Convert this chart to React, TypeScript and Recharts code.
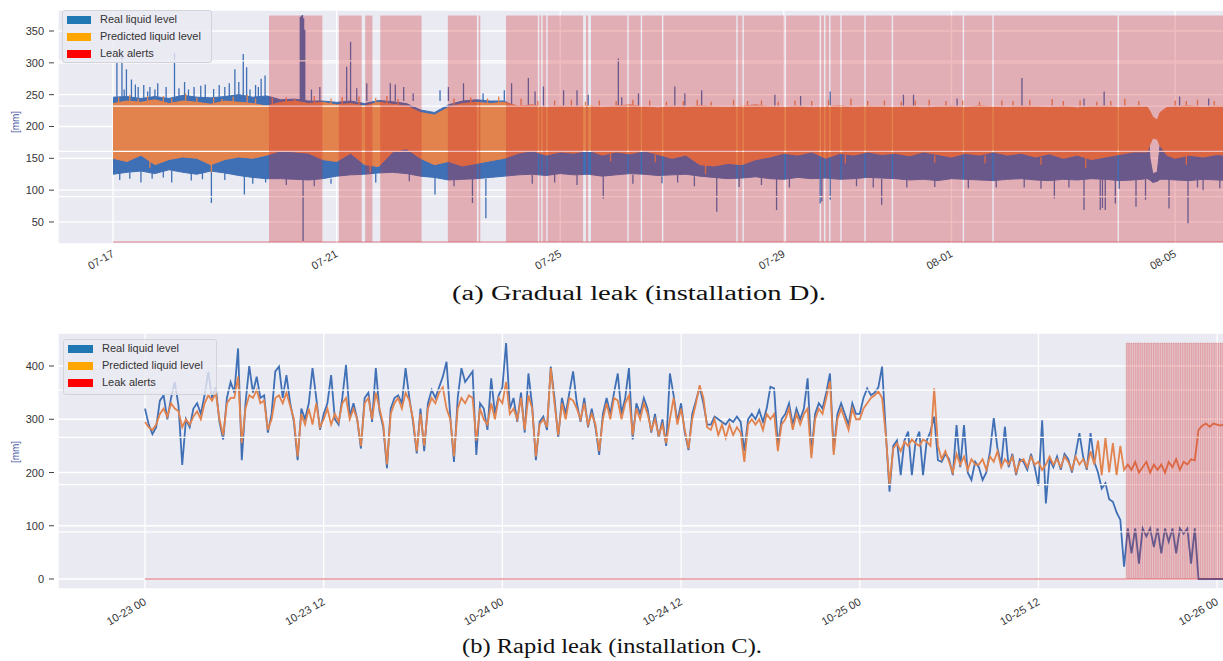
import React from "react";
import { ComposedChart, Area, Line, XAxis, YAxis, CartesianGrid, ReferenceLine } from "recharts";

const BLUE = "#3f6fb5";
const ORANGE = "#e2834d";
const ALERT = "#d0262a";
const BG = "#eaeaf2";
const FONT = '"Liberation Sans", Arial, Helvetica, sans-serif';

// ---------------- (a) Gradual leak (installation D): x = days since 07-17 00:00 ----------------
const topTickDays = [0, 4, 8, 12, 15, 19];
const topTickLabels = ["07-17", "07-21", "07-25", "07-29", "08-01", "08-05"];
const topYTicks = [50, 100, 150, 200, 250, 300, 350];

// [day, low, high] envelope of the dense real liquid level
const realBandTop: [number, number, number][] = [
  [0, 125, 246], [0.25, 128, 247], [0.5, 130, 244], [0.75, 126, 247], [1, 132, 244], [1.25, 128, 249],
  [1.5, 125, 246], [1.75, 130, 245], [2, 127, 247], [2.25, 123, 250], [2.5, 120, 246], [2.75, 118, 248],
  [3, 118, 242], [3.25, 117, 243], [3.5, 116, 240], [3.75, 118, 240], [4, 122, 238], [4.25, 124, 240],
  [4.5, 125, 236], [4.75, 127, 241], [5, 128, 239], [5.25, 126, 236], [5.5, 122, 226], [5.75, 120, 222],
  [6, 116, 234], [6.25, 117, 240], [6.5, 118, 242], [6.75, 120, 240], [7, 122, 240],
  [7.25, 124, 228], [7.5, 125, 226], [7.75, 123, 229], [8, 126, 227], [8.25, 124, 230], [8.5, 125, 228],
  [8.75, 122, 226], [9, 124, 229], [9.25, 126, 227], [9.5, 125, 230], [9.75, 123, 226], [10, 124, 228],
  [10.25, 125, 227], [10.5, 122, 229], [10.75, 120, 226], [11, 118, 228], [11.25, 119, 227], [11.5, 121, 229],
  [11.75, 118, 226], [12, 117, 228], [12.25, 120, 227], [12.5, 118, 229], [12.75, 119, 226], [13, 117, 228],
  [13.25, 118, 227], [13.5, 120, 229], [13.75, 119, 226], [14, 118, 228], [14.25, 116, 227], [14.5, 117, 229],
  [14.75, 115, 226], [15, 118, 228], [15.25, 117, 227], [15.5, 116, 229], [15.75, 115, 226], [16, 117, 228],
  [16.25, 118, 227], [16.5, 116, 229], [16.75, 115, 226], [17, 117, 228], [17.25, 116, 227], [17.5, 118, 229],
  [17.75, 117, 226], [18, 115, 228], [18.25, 116, 227], [18.5, 118, 228], [18.55, 116, 150], [18.6, 112, 126],
  [18.68, 114, 128], [18.73, 117, 170], [18.85, 117, 228], [19, 116, 228], [19.25, 115, 227], [19.5, 117, 229],
  [19.75, 116, 226], [20, 115, 228],
];

// [day, low, high] envelope of the dense predicted liquid level
const predBandTop: [number, number, number][] = [
  [0, 150, 236], [0.25, 145, 240], [0.5, 155, 238], [0.75, 140, 242], [1, 148, 236], [1.25, 152, 240],
  [1.5, 150, 238], [1.75, 140, 235], [2, 148, 240], [2.25, 152, 238], [2.5, 150, 236], [2.75, 155, 232],
  [3, 162, 238], [3.25, 160, 240], [3.5, 158, 236], [3.75, 148, 238], [4, 145, 234], [4.25, 158, 236],
  [4.5, 140, 232], [4.75, 137, 238], [5, 160, 235], [5.25, 165, 232], [5.5, 150, 222], [5.75, 140, 218],
  [6, 145, 230], [6.25, 138, 236], [6.5, 142, 238], [6.75, 146, 236], [7, 150, 238],
  [7.25, 158, 232], [7.5, 162, 234], [7.75, 155, 230], [8, 160, 232], [8.25, 158, 231], [8.5, 163, 233],
  [8.75, 155, 230], [9, 160, 232], [9.25, 157, 234], [9.5, 162, 231], [9.75, 156, 229], [10, 150, 232],
  [10.25, 155, 230], [10.5, 140, 233], [10.75, 138, 231], [11, 142, 230], [11.25, 140, 232], [11.5, 148, 234],
  [11.75, 152, 231], [12, 158, 230], [12.25, 155, 232], [12.5, 160, 229], [12.75, 150, 231], [13, 158, 233],
  [13.25, 155, 230], [13.5, 160, 232], [13.75, 156, 231], [14, 158, 230], [14.25, 154, 232], [14.5, 160, 229],
  [14.75, 156, 231], [15, 152, 232], [15.25, 158, 230], [15.5, 155, 233], [15.75, 160, 231], [16, 155, 230],
  [16.25, 158, 232], [16.5, 152, 231], [16.75, 157, 230], [17, 150, 232], [17.25, 155, 229], [17.5, 148, 231],
  [17.75, 152, 232], [18, 156, 230], [18.25, 160, 231], [18.5, 160, 231], [18.55, 172, 224], [18.6, 182, 215],
  [18.68, 180, 210], [18.73, 170, 222], [18.85, 155, 230], [19, 150, 231], [19.25, 155, 233], [19.5, 152, 230],
  [19.75, 156, 232], [20, 154, 231],
];

// [day, from, to] single spikes of the real level
const realSpikesTop: [number, number, number][] = [
  [0.07, 240, 300], [0.16, 240, 311], [0.2, 240, 258], [0.24, 240, 290], [0.33, 240, 274], [0.4, 240, 266],
  [0.45, 240, 262], [0.55, 240, 265], [0.62, 240, 255], [0.66, 240, 262], [0.75, 240, 258], [0.8, 240, 268],
  [0.95, 240, 262], [1.1, 240, 316], [1.18, 240, 260], [1.28, 240, 270], [1.35, 240, 258], [1.45, 240, 262],
  [1.57, 240, 264], [1.65, 240, 266], [1.8, 240, 259], [1.9, 240, 265], [2.0, 240, 262], [2.08, 240, 268],
  [2.18, 240, 290], [2.25, 240, 270], [2.33, 240, 314], [2.39, 240, 293], [2.45, 240, 258], [2.55, 240, 265],
  [2.6, 240, 262], [2.65, 240, 275], [2.72, 240, 280],
  [3.35, 240, 372], [3.37, 240, 374], [3.39, 240, 375], [3.41, 240, 370], [3.43, 240, 352],
  [3.55, 240, 258], [3.7, 240, 262], [4.18, 240, 294], [4.25, 240, 333], [4.36, 240, 260], [4.54, 240, 268],
  [4.96, 240, 268], [5.05, 240, 266], [5.2, 240, 262], [5.37, 240, 252], [5.85, 240, 257], [6.0, 240, 262],
  [6.27, 240, 268], [6.62, 240, 252], [7.0, 240, 257], [7.13, 228, 268], [7.43, 228, 276], [7.55, 228, 255],
  [7.7, 228, 263], [8.06, 228, 257], [8.3, 228, 257], [8.5, 228, 250], [9.04, 228, 307], [9.1, 228, 246],
  [9.4, 228, 252], [10.05, 228, 263], [10.23, 228, 252], [10.53, 228, 257], [11.84, 228, 250], [12.3, 228, 248],
  [12.83, 228, 255], [14.14, 228, 250], [14.32, 228, 250], [15.1, 228, 244], [16.26, 228, 276], [17.37, 228, 244],
  [17.73, 228, 255], [19.08, 228, 247], [19.6, 228, 244],
  [0.12, 130, 116], [0.3, 128, 118], [0.5, 130, 112], [0.7, 130, 118], [0.9, 130, 120], [1.05, 130, 112],
  [1.4, 130, 115], [1.6, 128, 117], [1.76, 130, 80], [2.0, 128, 116], [2.35, 130, 93], [2.5, 125, 110],
  [2.73, 125, 112], [3.1, 118, 108], [3.4, 120, 20], [3.6, 118, 106], [3.9, 118, 110], [4.7, 126, 112],
  [5.3, 126, 114], [5.76, 125, 93], [6.1, 118, 106], [6.43, 118, 80], [6.67, 118, 56], [7.5, 124, 110],
  [7.9, 124, 112], [8.3, 124, 108], [8.77, 122, 87], [9.3, 124, 110], [9.82, 122, 111], [10.1, 124, 112],
  [10.4, 122, 106], [10.8, 120, 66], [11.2, 119, 105], [11.6, 120, 108], [11.87, 120, 69], [12.1, 118, 104],
  [12.65, 120, 79], [12.68, 120, 82], [12.83, 120, 85], [13.3, 118, 106], [13.6, 119, 104], [13.75, 118, 77],
  [14.2, 117, 104], [14.7, 116, 105], [15.3, 117, 103], [15.8, 115, 104], [16.3, 118, 104], [16.6, 116, 102],
  [16.84, 118, 87], [17.1, 117, 104], [17.37, 118, 69], [17.66, 118, 69], [17.7, 118, 72], [17.75, 118, 69],
  [17.93, 118, 79], [18.0, 115, 102], [18.3, 118, 74], [18.47, 118, 85], [18.89, 118, 71], [19.23, 118, 48],
  [19.4, 117, 104], [19.5, 118, 100], [19.8, 116, 103],
];

// [day, from, to] single spikes of the predicted level
const predSpikesTop: [number, number, number][] = [
  [0.1, 232, 246], [0.3, 232, 250], [0.45, 232, 244], [0.62, 232, 248], [0.9, 232, 248], [1.05, 232, 244],
  [1.3, 232, 252], [1.5, 232, 245], [1.8, 232, 246], [1.95, 232, 243], [2.15, 232, 247], [2.4, 232, 250],
  [2.55, 232, 244], [2.85, 232, 245], [3.1, 232, 246], [3.25, 232, 243], [3.6, 232, 248], [3.9, 232, 244],
  [4.1, 232, 246], [4.4, 232, 247], [4.7, 232, 245], [4.9, 232, 248], [5.1, 232, 243], [6.1, 228, 244],
  [6.4, 232, 246], [6.7, 232, 244], [6.9, 232, 247],
  [7.3, 226, 244], [7.6, 226, 240], [7.9, 226, 241], [8.2, 226, 242], [8.45, 226, 239], [8.7, 226, 241],
  [9.0, 226, 240], [9.3, 226, 242], [9.6, 226, 241], [9.9, 226, 239], [10.2, 226, 240], [10.45, 226, 242],
  [10.7, 226, 239], [11.1, 226, 242], [11.35, 226, 240], [11.6, 226, 241], [11.9, 226, 239], [12.2, 226, 241],
  [12.5, 226, 240], [12.8, 226, 242], [13.2, 226, 244], [13.5, 226, 240], [13.8, 226, 241], [14.1, 226, 239],
  [14.35, 226, 241], [14.6, 226, 242], [14.9, 226, 240], [15.2, 226, 241], [15.5, 226, 239], [15.9, 226, 241],
  [16.1, 226, 240], [16.4, 226, 242], [16.8, 226, 243], [17.0, 226, 240], [17.3, 226, 241], [17.6, 226, 239],
  [17.85, 226, 240], [18.1, 226, 244], [18.35, 226, 240], [19.0, 226, 241], [19.2, 226, 240], [19.4, 226, 242],
  [19.7, 226, 240], [19.9, 226, 241],
  [0.66, 150, 135], [1.76, 145, 128], [4.6, 140, 128], [8.9, 158, 145], [9.7, 156, 144], [10.6, 140, 125],
  [13.1, 156, 142], [14.7, 155, 143], [15.6, 155, 142], [16.6, 152, 140], [17.4, 150, 135], [19.2, 155, 140],
];

// [start day, end day] of leak alerts
const alertPeriodsTop: [number, number][] = [
  [2.79, 3.745], [4.04, 4.45], [4.51, 4.64], [4.78, 5.52], [5.99, 6.51], [6.54, 6.57], [7.03, 7.6],
  [7.625, 7.66], [7.685, 7.75], [7.775, 8.41], [8.46, 8.5], [8.55, 9.2], [9.225, 9.44], [9.465, 9.82],
  [9.845, 11.15], [11.175, 11.26], [11.285, 12.01], [12.04, 12.64], [12.665, 12.72], [12.745, 12.81],
  [12.835, 13.01], [13.035, 13.44], [13.465, 13.93], [13.955, 15.2], [15.225, 15.73], [15.755, 17.97],
  [17.995, 20.0],
];

// ---------------- (b) Rapid leak (installation C): x = hours since 10-23 00:00 ----------------
const bottomTickHours = [0, 12, 24, 36, 48, 60, 72];
const bottomTickLabels = ["10-23 00", "10-23 12", "10-24 00", "10-24 12", "10-25 00", "10-25 12", "10-26 00"];
const bottomYTicks = [0, 100, 200, 300, 400];
const sampleStepHours = 0.25;

const realBottom = [
  320, 290, 272, 285, 335, 345, 300, 340,
  370, 325, 214, 300, 285, 320, 330, 310,
  345, 389, 340, 360, 295, 262, 340, 370,
  350, 433, 223, 330, 400, 350, 380, 340,
  345, 275, 310, 390, 399, 340, 383, 330,
  295, 223, 320, 300, 330, 396, 340, 280,
  310, 330, 383, 300, 290, 340, 402, 305,
  330, 300, 245, 340, 350, 295, 396, 315,
  285, 208, 320, 340, 345, 330, 396, 340,
  295, 236, 320, 240, 330, 355, 340, 360,
  380, 408, 305, 220, 340, 396, 370, 380,
  390, 233, 330, 320, 280, 377, 310, 345,
  360, 443, 320, 340, 295, 350, 275, 386,
  325, 223, 295, 305, 280, 399, 340, 265,
  340, 310, 350, 390, 330, 295, 340, 285,
  320, 285, 233, 310, 340, 310, 350, 386,
  310, 340, 396, 262, 330, 310, 340, 320,
  275, 310, 265, 300, 250, 386, 345, 295,
  330, 275, 242, 310, 335, 360, 330, 290,
  290, 305, 300, 295, 290, 300, 295, 305,
  295, 240, 300, 310, 300, 317, 295, 320,
  361, 358, 250, 300, 310, 330, 290, 320,
  300, 320, 377, 235, 310, 330, 320, 350,
  386, 240, 310, 330, 310, 290, 330, 310,
  310, 340, 358, 345, 350, 360, 399, 275,
  164, 250, 260, 195, 260, 277, 195, 258,
  277, 195, 260, 277, 305, 223, 220, 235,
  225, 195, 289, 210, 289, 200, 186, 220,
  210, 186, 200, 240, 302, 245, 215, 286,
  210, 235, 195, 225, 220, 205, 235, 210,
  175, 298, 142, 225, 210, 230, 205, 235,
  225, 200, 235, 274, 230, 205, 274, 220,
  200, 170, 180, 150, 145, 125, 111, 23,
  95, 48, 95, 29, 95, 80, 95, 60,
  95, 48, 95, 70, 95, 48, 95, 85,
  95, 29, 95, 0, 0, 0, 0, 0,
  0, 0, 0, 0,
];

const predBottom = [
  295, 285, 280, 290, 310, 320, 305, 330,
  320, 315, 285, 300, 290, 305, 315, 300,
  330, 345, 335, 350, 300, 270, 330, 340,
  340, 380, 255, 320, 345, 340, 355, 330,
  335, 280, 300, 340, 345, 330, 350, 325,
  300, 230, 310, 290, 320, 290, 330, 285,
  300, 320, 290, 310, 295, 330, 340, 300,
  320, 300, 250, 330, 340, 300, 350, 320,
  290, 215, 310, 330, 340, 320, 350, 335,
  300, 240, 310, 250, 320, 340, 330, 350,
  360, 320, 300, 230, 320, 340, 330, 345,
  340, 260, 320, 300, 290, 330, 300, 340,
  330, 370, 310, 320, 300, 340, 280, 345,
  320, 230, 290, 300, 285, 396, 330, 270,
  330, 300, 340, 335, 320, 300, 330, 290,
  310, 290, 240, 300, 330, 300, 340, 335,
  300, 330, 345, 270, 320, 300, 330, 310,
  280, 300, 270, 290, 255, 300, 340, 290,
  320, 280, 245, 300, 330, 364, 340, 285,
  280, 300, 270, 290, 265, 290, 270, 285,
  275, 220, 290, 300, 290, 300, 280, 310,
  300, 310, 240, 290, 300, 320, 280, 310,
  290, 310, 320, 227, 300, 320, 310, 340,
  371, 233, 300, 320, 300, 280, 320, 300,
  300, 320, 330, 340, 345, 352, 340, 270,
  177, 245, 255, 240, 258, 250, 262, 255,
  250, 262, 258, 250, 358, 250, 225, 240,
  220, 200, 235, 215, 230, 205, 225, 215,
  215, 225, 205, 230, 220, 240, 210, 225,
  215, 230, 200, 220, 225, 210, 230, 215,
  220, 205, 215, 230, 215, 225, 210, 230,
  220, 205, 230, 215, 225, 210, 240, 215,
  260, 195, 265, 200, 255, 195, 250, 205,
  215, 205, 220, 200, 210, 220, 200, 215,
  205, 215, 200, 220, 210, 225, 205, 220,
  215, 225, 223, 280, 288, 292, 286, 292,
  290, 288, 291, 289,
];

// start hour of each leak alert pulse
const alertPulsesBottom = [
  65.9, 66.05, 66.2, 66.35, 66.5, 66.65, 66.8, 66.95, 67.1, 67.25, 67.4, 67.55, 67.7, 67.85, 68.0,
  68.15, 68.3, 68.45, 68.6, 68.75, 68.9, 69.05, 69.2, 69.35, 69.5, 69.65, 69.8, 69.95, 70.1, 70.25,
  70.4, 70.55, 70.7, 70.85, 71.0, 71.15, 71.3, 71.45, 71.6, 71.75, 71.9, 72.05, 72.2, 72.35, 72.5,
];
const pulseHours = 0.075;

// alert (twin) axis grid values
const twinGrid = [0.2, 0.4, 0.6, 0.8];

// ---------------- derived tables ----------------
const realBandTopData = realBandTop.map(([t, lo, hi]) => ({ t, r: [lo, hi] }));
const predBandTopData = predBandTop.map(([t, lo, hi]) => ({ t, r: [lo, hi] }));
const spikes = (arr: [number, number, number][]) =>
  arr.flatMap(([t, a, b]) => [{ t, v: a }, { t, v: b }, { t, v: null }]);
const realSpikeTopData = spikes(realSpikesTop);
const predSpikeTopData = spikes(predSpikesTop);
const alertTopData = [
  { t: 0, a: 0 },
  ...alertPeriodsTop.flatMap(([s, e]) => [{ t: s, a: 1 }, { t: e, a: 0 }]),
];
const bottomData = realBottom.map((r, i) => ({ t: i * sampleStepHours, real: r, pred: predBottom[i] }));
const alertBottomData = [
  { t: 0, a: 0 },
  ...alertPulsesBottom.flatMap((s) => [{ t: s, a: 1 }, { t: s + pulseHours, a: 0 }]),
  { t: 76, a: 0 },
];

// ---------------- small renderers ----------------
const YTick = (props: any) => {
  const { y, payload } = props;
  return (
    <g>
      <line x1={49} x2={54} y1={y} y2={y} stroke="#444" strokeWidth={1} />
      <text x={44} y={y} textAnchor="end" dominantBaseline="central" fontSize={11} fill="#333" fontFamily={FONT}>
        {payload.value}
      </text>
    </g>
  );
};

const makeXTick = (ticks: number[], labels: string[], labelY: number) => (props: any) => {
  const { x, payload } = props;
  const i = ticks.indexOf(payload.value);
  return (
    <text
      transform={`translate(${x - 2},${labelY}) rotate(-30)`}
      textAnchor="end"
      dominantBaseline="hanging"
      fontSize={11}
      fill="#333"
      fontFamily={FONT}
    >
      {labels[i]}
    </text>
  );
};

const MmLabel = (props: any) => (
  <text
    transform={`translate(15,${props.cy}) rotate(-90)`}
    textAnchor="middle"
    dominantBaseline="central"
    fontSize={10}
    fill="#4b5aa6"
    fontFamily={FONT}
  >
    [mm]
  </text>
);

const legendItems = [
  { label: "Real liquid level", color: "#1f77b4" },
  { label: "Predicted liquid level", color: "#ffa500" },
  { label: "Leak alerts", color: "#ff0000" },
];

const LegendBox = ({ left, top, width, height, rowGap, patchW }: any) => (
  <div
    style={{
      position: "absolute",
      left,
      top,
      width,
      height,
      boxSizing: "border-box",
      background: "rgba(234,234,242,0.8)",
      border: "1px solid #d3d3da",
      borderRadius: 3,
      fontFamily: FONT,
      fontSize: 11,
      color: "#333",
    }}
  >
    {legendItems.map((it, i) => (
      <div key={it.label} style={{ position: "absolute", left: 4, top: 4 + i * rowGap, height: 9, display: "flex", alignItems: "center" }}>
        <div style={{ width: patchW, height: 8, background: it.color }} />
        <div style={{ marginLeft: 9, whiteSpace: "nowrap", lineHeight: "9px" }}>{it.label}</div>
      </div>
    ))}
  </div>
);

function TopChart() {
  return (
    <ComposedChart width={1290} height={300} margin={{ top: 10, right: 2, bottom: 16, left: 0 }}>
      <CartesianGrid fill={BG} stroke="#ffffff" strokeWidth={1.3} />
      <XAxis
        dataKey="t"
        type="number"
        domain={[-0.984, 21.019]}
        allowDataOverflow
        ticks={topTickDays}
        interval={0}
        tick={makeXTick(topTickDays, topTickLabels, 249)}
        tickLine={false}
        axisLine={false}
        height={40}
      />
      <YAxis
        type="number"
        domain={[15.4, 383]}
        allowDataOverflow
        ticks={topYTicks}
        interval={0}
        tick={YTick}
        tickLine={false}
        axisLine={false}
        width={58}
        label={<MmLabel cy={122} />}
      />
      <YAxis yAxisId="alert" orientation="right" hide type="number" domain={[-0.0088, 1.0243]} allowDataOverflow />
      <Area data={realBandTopData} dataKey="r" type="linear" fill={BLUE} fillOpacity={1} stroke={BLUE} strokeWidth={1} dot={false} activeDot={false} isAnimationActive={false} zIndex={110} />
      <Line data={realSpikeTopData} dataKey="v" type="linear" stroke={BLUE} strokeWidth={1.3} dot={false} activeDot={false} connectNulls={false} isAnimationActive={false} zIndex={120} />
      <Area data={predBandTopData} dataKey="r" type="linear" fill={ORANGE} fillOpacity={1} stroke={ORANGE} strokeWidth={1} dot={false} activeDot={false} isAnimationActive={false} zIndex={130} />
      <Line data={predSpikeTopData} dataKey="v" type="linear" stroke={ORANGE} strokeWidth={1.3} dot={false} activeDot={false} connectNulls={false} isAnimationActive={false} zIndex={140} />
      {twinGrid.map((g) => (
        <ReferenceLine key={g} yAxisId="alert" y={g} stroke="#ffffff" strokeWidth={1.3} zIndex={150} />
      ))}
      <Area data={alertTopData} yAxisId="alert" dataKey="a" type="stepAfter" baseValue={0} fill={ALERT} fillOpacity={0.3} stroke="none" dot={false} activeDot={false} isAnimationActive={false} zIndex={160} />
      <ReferenceLine yAxisId="alert" segment={[{ x: 0, y: 0 }, { x: 20, y: 0 }]} stroke={ALERT} strokeOpacity={0.35} strokeWidth={1.5} zIndex={170} />
    </ComposedChart>
  );
}

function BottomChart() {
  return (
    <ComposedChart width={1290} height={320} margin={{ top: 13, right: 2, bottom: 11, left: 0 }}>
      <CartesianGrid fill={BG} stroke="#ffffff" strokeWidth={1.3} />
      <XAxis
        dataKey="t"
        type="number"
        domain={[-5.843, 76.76]}
        allowDataOverflow
        ticks={bottomTickHours}
        interval={0}
        tick={makeXTick(bottomTickHours, bottomTickLabels, 277)}
        tickLine={false}
        axisLine={false}
        height={40}
      />
      <YAxis
        type="number"
        domain={[-18.8, 462]}
        allowDataOverflow
        ticks={bottomYTicks}
        interval={0}
        tick={YTick}
        tickLine={false}
        axisLine={false}
        width={58}
        label={<MmLabel cy={132} />}
      />
      <YAxis yAxisId="alert" orientation="right" hide type="number" domain={[-0.0424, 1.0424]} allowDataOverflow />
      <Line data={bottomData} dataKey="real" type="linear" stroke={BLUE} strokeWidth={1.8} dot={false} activeDot={false} isAnimationActive={false} zIndex={110} />
      <Line data={bottomData} dataKey="pred" type="linear" stroke={ORANGE} strokeWidth={1.8} dot={false} activeDot={false} isAnimationActive={false} zIndex={120} />
      {twinGrid.map((g) => (
        <ReferenceLine key={g} yAxisId="alert" y={g} stroke="#ffffff" strokeWidth={1.3} zIndex={130} />
      ))}
      <Area data={alertBottomData} yAxisId="alert" dataKey="a" type="stepAfter" baseValue={0} fill={ALERT} fillOpacity={0.2} stroke={ALERT} strokeOpacity={0.3} strokeWidth={0.8} dot={false} activeDot={false} isAnimationActive={false} zIndex={140} />
      <ReferenceLine yAxisId="alert" segment={[{ x: 0, y: 0 }, { x: 76, y: 0 }]} stroke={ALERT} strokeOpacity={0.35} strokeWidth={1.5} zIndex={150} />
    </ComposedChart>
  );
}

export default function App() {
  return (
    <div style={{ position: "fixed", left: 0, top: 0, width: 1223, height: 661, overflow: "hidden", background: "#ffffff" }}>
      <div style={{ position: "absolute", left: 0, top: 0 }}>
        <TopChart />
      </div>
      <div style={{ position: "absolute", left: 0, top: 320 }}>
        <BottomChart />
      </div>
      <LegendBox left={62} top={10} width={150} height={53} rowGap={17} patchW={24} />
      <LegendBox left={63} top={339} width={154} height={56} rowGap={17} patchW={25} />
      <svg style={{ position: "absolute", left: 0, top: 0, pointerEvents: "none" }} width={1223} height={661}>
        <text x={639} y={300} textAnchor="middle" fontSize={20} fill="#111" fontFamily='"Liberation Serif", "DejaVu Serif", serif' textLength={374} lengthAdjust="spacingAndGlyphs">
          (a) Gradual leak (installation D).
        </text>
        <text x={612} y={653} textAnchor="middle" fontSize={20} fill="#111" fontFamily='"Liberation Serif", "DejaVu Serif", serif' textLength={300} lengthAdjust="spacingAndGlyphs">
          (b) Rapid leak (installation C).
        </text>
      </svg>
    </div>
  );
}
